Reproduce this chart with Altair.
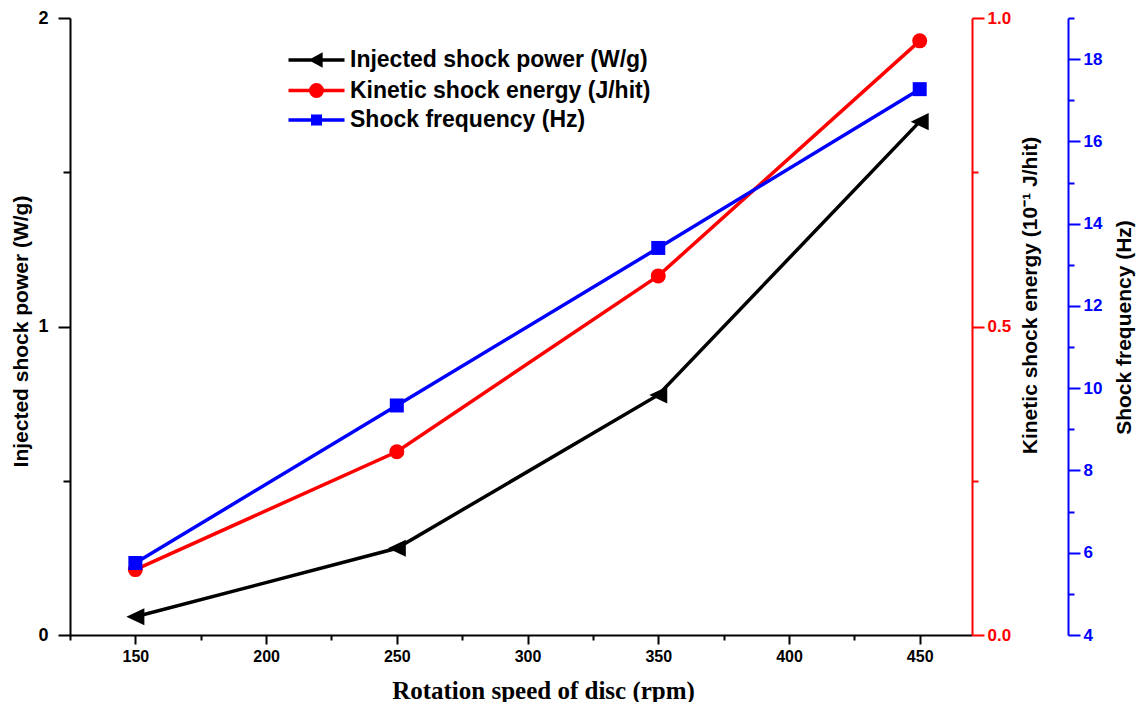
import altair as alt
import pandas as pd

# ---- data ----
rpm = [150, 250, 350, 450]
power = [0.059, 0.281, 0.778, 1.664]        # Injected shock power (W/g)
energy = [0.106, 0.297, 0.582, 0.963]       # Kinetic shock energy (10^-1 J/hit)
freq = [5.75, 9.58, 13.41, 17.27]           # Shock frequency (Hz)

series_names = ["Injected shock power (W/g)", "Kinetic shock energy (J/hit)", "Shock frequency (Hz)"]
series_colors = ["#000000", "#ff0000", "#0000ff"]

x_ticks = [125, 150, 175, 200, 225, 250, 275, 300, 325, 350, 375, 400, 425, 450]
left_ticks = [0, 0.5, 1, 1.5, 2]
red_ticks = [0, 0.25, 0.5, 0.75, 1]
blue_ticks = list(range(4, 20))

df = pd.DataFrame({"rpm": rpm, "power": power, "energy": energy, "freq": freq})
legend_df = pd.DataFrame({"series": series_names})

SANS = "Liberation Sans"
SERIF = "Liberation Serif"

# legend symbols (line + marker), unit = 4 px
legend_shapes = [
    "M-7,0H7M-1.1,0L1.1,-1.2L1.1,1.2Z",
    "M-7,0H7M1.44,0A1.44,1.44,0,1,1,-1.44,0A1.44,1.44,0,1,1,1.44,0Z",
    "M-7,0H7M-0.94,-0.94H0.94V0.94H-0.94Z",
]

x_enc = alt.X(
    "rpm:Q",
    scale=alt.Scale(domain=[125, 470], nice=False, zero=False),
    axis=alt.Axis(
        values=x_ticks,
        labelExpr="datum.value % 50 === 0 ? format(datum.value, 'd') : ''",
        tickSize={"condition": {"test": "datum.value % 50 === 0", "value": 9}, "value": 5},
        tickWidth=2, tickColor="black", domainColor="black", domainWidth=2,
        labelFont=SANS, labelFontSize=16, labelFontWeight="bold", labelColor="black",
        labelPadding=4, labelOverlap=False, grid=False,
        title="Rotation speed of disc (rpm)", titleFont=SERIF, titleFontSize=25,
        titleFontWeight="bold", titleColor="black",
        titleX=473, titleY=55, titleAlign="center", titleBaseline="middle",
    ),
)

line_w = 3.5

black = alt.Chart(df).mark_line(
    color="#000000", strokeWidth=line_w,
    point=alt.OverlayMarkDef(filled=True, color="#000000", shape="M-1,0L1,-0.95L1,0.95Z", size=324, opacity=1),
).encode(
    x=x_enc,
    y=alt.Y(
        "power:Q",
        scale=alt.Scale(domain=[0, 2], nice=False, zero=False),
        axis=alt.Axis(
            orient="left", values=left_ticks,
            labelExpr="datum.value % 1 === 0 ? format(datum.value, 'd') : ''",
            tickSize={"condition": {"test": "datum.value % 1 === 0", "value": 12}, "value": 7},
            tickWidth=2, tickColor="black", domainColor="black", domainWidth=2,
            labelFont=SANS, labelFontSize=18, labelFontWeight="bold", labelColor="black",
            labelPadding=10, labelOverlap=False, grid=False,
            title="Injected shock power (W/g)", titleFont=SANS, titleFontSize=21,
            titleFontWeight="bold", titleColor="black",
            titleX=-49, titleY=313, titleAngle=270, titleAlign="center", titleBaseline="middle",
        ),
    ),
)

red = alt.Chart(df).mark_line(
    color="#ff0000", strokeWidth=line_w,
    point=alt.OverlayMarkDef(filled=True, color="#ff0000", shape="circle", size=225, opacity=1),
).encode(
    x=x_enc,
    y=alt.Y(
        "energy:Q",
        scale=alt.Scale(domain=[0, 1], nice=False, zero=False),
        axis=alt.Axis(
            orient="right", values=red_ticks,
            labelExpr="(datum.value * 4) % 2 === 0 ? format(datum.value, '.1f') : ''",
            tickSize={"condition": {"test": "(datum.value * 4) % 2 === 0", "value": 12}, "value": 6},
            tickWidth=2, tickColor="#ff0000", domainColor="#ff0000", domainWidth=2,
            labelFont=SANS, labelFontSize=17, labelFontWeight="bold", labelColor="#ff0000",
            labelPadding=3, labelOverlap=False, grid=False,
            title="Kinetic shock energy (10\u207b\u00b9 J/hit)", titleFont=SANS, titleFontSize=21,
            titleFontWeight="bold", titleColor="black",
            titleX=58, titleY=277, titleAngle=270, titleAlign="center", titleBaseline="middle",
        ),
    ),
)

blue = alt.Chart(df).mark_line(
    color="#0000ff", strokeWidth=line_w,
    point=alt.OverlayMarkDef(filled=True, color="#0000ff", shape="square", size=196, opacity=1),
).encode(
    x=x_enc,
    y=alt.Y(
        "freq:Q",
        scale=alt.Scale(domain=[4, 19], nice=False, zero=False),
        axis=alt.Axis(
            orient="right", offset=96, values=blue_ticks,
            labelExpr="datum.value % 2 === 0 ? format(datum.value, 'd') : ''",
            tickSize={"condition": {"test": "datum.value % 2 === 0", "value": 12}, "value": 6},
            tickWidth=2, tickColor="#0000ff", domainColor="#0000ff", domainWidth=2,
            labelFont=SANS, labelFontSize=17, labelFontWeight="bold", labelColor="#0000ff",
            labelPadding=3, labelOverlap=False, grid=False,
            title="Shock frequency (Hz)", titleFont=SANS, titleFontSize=21,
            titleFontWeight="bold", titleColor="black",
            titleX=56, titleY=309, titleAngle=270, titleAlign="center", titleBaseline="middle",
        ),
    ),
)

leg = alt.Legend(
    title=None, orient="none", legendX=235, legendY=30.5, padding=0,
    labelFont=SANS, labelFontSize=23, labelFontWeight="bold", labelColor="black", labelLimit=0,
    symbolSize=64, symbolStrokeWidth=3.5, labelOffset=22, rowPadding=4.5, symbolOpacity=1,
)

legend_layer = alt.Chart(legend_df).mark_point(filled=True, opacity=1).encode(
    fill=alt.Fill("series:N", scale=alt.Scale(domain=series_names, range=series_colors), legend=leg),
    stroke=alt.Stroke("series:N", scale=alt.Scale(domain=series_names, range=series_colors), legend=leg),
    shape=alt.Shape("series:N", scale=alt.Scale(domain=series_names, range=legend_shapes), legend=leg),
).transform_filter("false")

chart = alt.layer(black, red, blue, legend_layer).resolve_scale(
    y="independent"
).properties(
    width=902, height=617,
    autosize=alt.AutoSizeParams(type="none"),
    padding={"left": 62, "top": 10, "right": 164, "bottom": 67},
).configure_view(stroke=None)

chart.save("out.html", embed_options={"renderer": "svg", "actions": False})
